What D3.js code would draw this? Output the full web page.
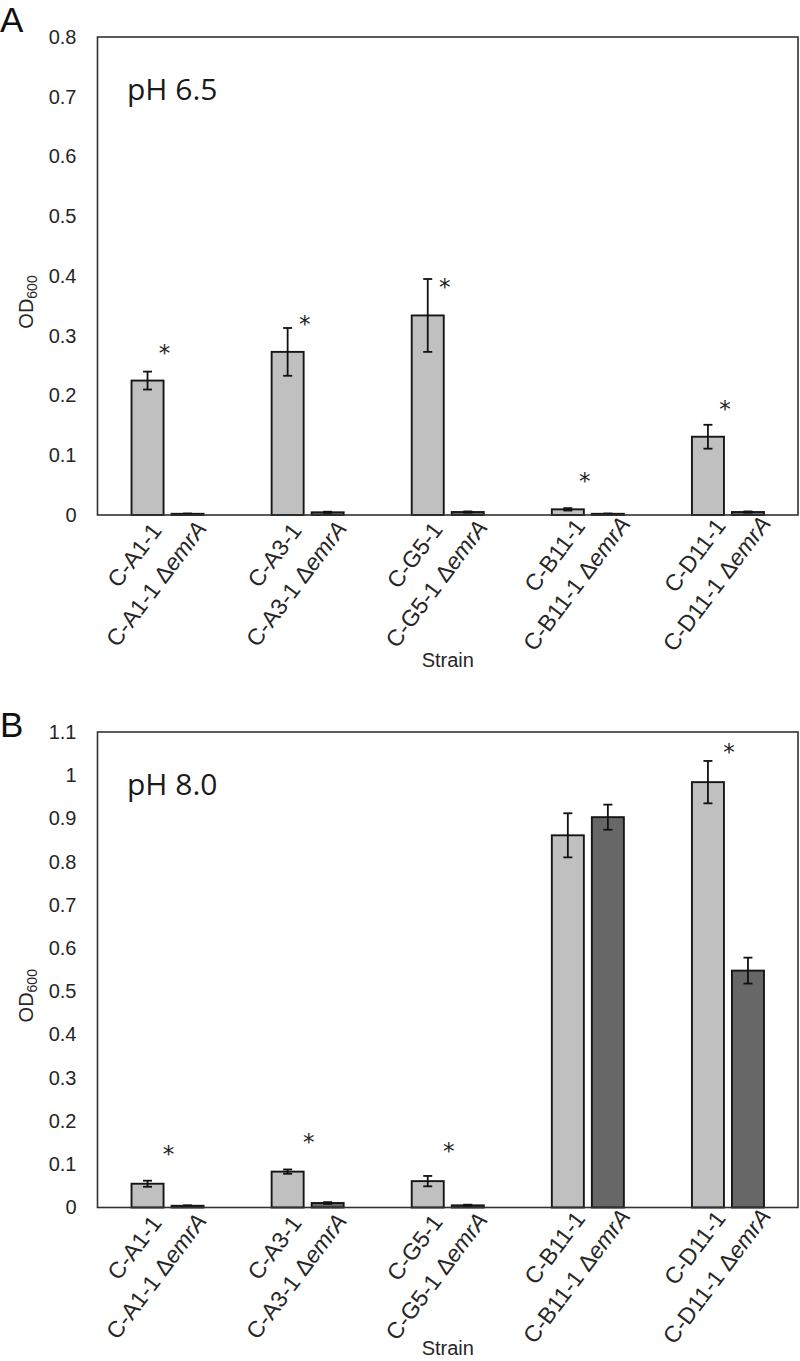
<!DOCTYPE html>
<html><head><meta charset="utf-8">
<script src="https://cdn.jsdelivr.net/npm/d3@7"></script>
<style>body{margin:0;background:#fff}</style></head>
<body><svg id="c" width="800" height="1361"></svg>
<script>
// ---- data ----
const categories = ["C-A1-1", "C-A3-1", "C-G5-1", "C-B11-1", "C-D11-1"];
const series = ["parent", "mutant"];
// pH 6.5
const parentA = [0.225, 0.273, 0.334, 0.0095, 0.131];
const parentAErr = [0.015, 0.040, 0.061, 0.002, 0.020];
const mutantA = [0.002, 0.0045, 0.005, 0.002, 0.005];
const mutantAErr = [0.0005, 0.001, 0.001, 0.0005, 0.001];
const sigA = [true, true, true, true, true];
const ticksA = [0, 0.1, 0.2, 0.3, 0.4, 0.5, 0.6, 0.7, 0.8];
const tickLabelsA = ["0", "0.1", "0.2", "0.3", "0.4", "0.5", "0.6", "0.7", "0.8"];
// pH 8.0
const parentB = [0.055, 0.083, 0.061, 0.861, 0.984];
const parentBErr = [0.007, 0.005, 0.012, 0.051, 0.049];
const mutantB = [0.004, 0.0104, 0.005, 0.903, 0.548];
const mutantBErr = [0.001, 0.002, 0.0015, 0.029, 0.030];
const sigB = [true, true, true, false, true];
const ticksB = [0, 0.1, 0.2, 0.3, 0.4, 0.5, 0.6, 0.7, 0.8, 0.9, 1.0, 1.1];
const tickLabelsB = ["0", "0.1", "0.2", "0.3", "0.4", "0.5", "0.6", "0.7", "0.8", "0.9", "1", "1.1"];

// ---- drawing ----
const svg = d3.select("#c");
const L = 97.5, R = 798;
const AX_FONT = "'Liberation Sans', Arial, sans-serif";
const TXT = "#262626";
const fills = {parent: "#c0c0c0", mutant: "#676767"};

function drawPanel(p) {
  const g = svg.append("g");
  const y = d3.scaleLinear().domain([0, p.max]).range([p.bottom, p.top]);
  const x = d3.scaleBand().domain(categories).range([L, R]);
  const xs = d3.scaleBand().domain(series).range([0, x.bandwidth()])
    .paddingInner(0.2).paddingOuter(0.85);

  // panel letter
  g.append("text").attr("x", 0).attr("y", p.letterY)
    .attr("font-family", AX_FONT).attr("font-size", 35).attr("fill", "#111")
    .text(p.letter);

  // y axis
  const ya = g.append("g").attr("transform", `translate(${L},0)`)
    .call(d3.axisLeft(y).tickValues(p.ticks).tickFormat((d, i) => p.tickLabels[i])
      .tickSize(0).tickPadding(21));
  ya.select(".domain").remove();
  ya.attr("font-family", AX_FONT).attr("font-size", 20).attr("color", TXT);

  // y title OD600
  const yt = g.append("text")
    .attr("transform", `translate(33,${(p.top + p.bottom) / 2 + 26}) rotate(-90)`)
    .attr("text-anchor", "middle").attr("font-family", AX_FONT)
    .attr("font-size", 20).attr("fill", TXT);
  yt.append("tspan").text("OD");
  yt.append("tspan").attr("font-size", 14).attr("dy", 4).text("600");

  // bars
  const vals = {parent: p.parent, mutant: p.mutant};
  const errs = {parent: p.parentErr, mutant: p.mutantErr};
  series.forEach(s => {
    const sg = g.append("g");
    sg.selectAll("rect").data(categories).join("rect")
      .attr("x", c => x(c) + xs(s))
      .attr("width", xs.bandwidth())
      .attr("y", (c, i) => y(vals[s][i]))
      .attr("height", (c, i) => p.bottom - y(vals[s][i]))
      .attr("fill", fills[s]).attr("stroke", "#161616").attr("stroke-width", 1.9);
    const eg = sg.selectAll("g.err").data(categories).join("g").attr("class", "err");
    const cx = c => x(c) + xs(s) + xs.bandwidth() / 2;
    eg.append("line").attr("x1", cx).attr("x2", cx)
      .attr("y1", (c, i) => y(vals[s][i] - errs[s][i]))
      .attr("y2", (c, i) => y(vals[s][i] + errs[s][i]));
    eg.append("line").attr("x1", c => cx(c) - 4.5).attr("x2", c => cx(c) + 4.5)
      .attr("y1", (c, i) => y(vals[s][i] + errs[s][i]))
      .attr("y2", (c, i) => y(vals[s][i] + errs[s][i]));
    eg.append("line").attr("x1", c => cx(c) - 4.5).attr("x2", c => cx(c) + 4.5)
      .attr("y1", (c, i) => y(vals[s][i] - errs[s][i]))
      .attr("y2", (c, i) => y(vals[s][i] - errs[s][i]));
    eg.selectAll("line").attr("stroke", "#111").attr("stroke-width", 1.8);
  });

  // significance asterisks
  g.selectAll("text.star").data(categories.filter((c, i) => p.sig[i])).join("text")
    .attr("class", "star")
    .attr("x", c => x(c) + xs("parent") + xs.bandwidth() + p.starDx)
    .attr("y", c => y(p.parent[categories.indexOf(c)]) - p.starDy + 9)
    .attr("text-anchor", "middle").attr("font-family", "'DejaVu Sans', sans-serif")
    .attr("font-size", 23).attr("fill", "#222").text("*");

  // frame
  g.append("rect").attr("x", L).attr("y", p.top).attr("width", R - L)
    .attr("height", p.bottom - p.top).attr("fill", "none")
    .attr("stroke", "#333").attr("stroke-width", 1.6);

  // pH label
  g.append("text").attr("x", 127).attr("y", p.top + 63)
    .attr("font-family", "'Open Sans', sans-serif").attr("font-size", 30)
    .attr("fill", "#1a1a1a").text(p.title);

  // category labels (two lines, rotated)
  const cl = g.selectAll("text.cat").data(categories).join("text").attr("class", "cat")
    .attr("transform", c => `translate(${x(c) + x.bandwidth() / 2 - 26.8},${p.bottom + 45}) rotate(-53)`)
    .attr("text-anchor", "middle").attr("font-family", AX_FONT)
    .attr("font-size", 23).attr("fill", TXT);
  cl.append("tspan").attr("x", 0).attr("y", 0).text(c => c);
  cl.each(function (c) {
    const t = d3.select(this).append("tspan").attr("x", -9.6).attr("y", 34.5);
    t.text(c + " Δ");
    t.append("tspan").attr("font-style", "italic").text("emrA");
  });

  // x title
  g.append("text").attr("x", (L + R) / 2).attr("y", p.bottom + p.strainDy)
    .attr("text-anchor", "middle").attr("font-family", AX_FONT)
    .attr("font-size", 20).attr("fill", TXT).text("Strain");
}

drawPanel({letter: "A", letterY: 32, title: "pH 6.5", top: 37, bottom: 515, max: 0.8,
  ticks: ticksA, tickLabels: tickLabelsA, parent: parentA, parentErr: parentAErr,
  mutant: mutantA, mutantErr: mutantAErr, sig: sigA, starDx: 1, starDy: 29, strainDy: 152});
drawPanel({letter: "B", letterY: 737, title: "pH 8.0", top: 732, bottom: 1207.5, max: 1.1,
  ticks: ticksB, tickLabels: tickLabelsB, parent: parentB, parentErr: parentBErr,
  mutant: mutantB, mutantErr: mutantBErr, sig: sigB, starDx: 5, starDy: 31, strainDy: 147});
</script></body></html>
